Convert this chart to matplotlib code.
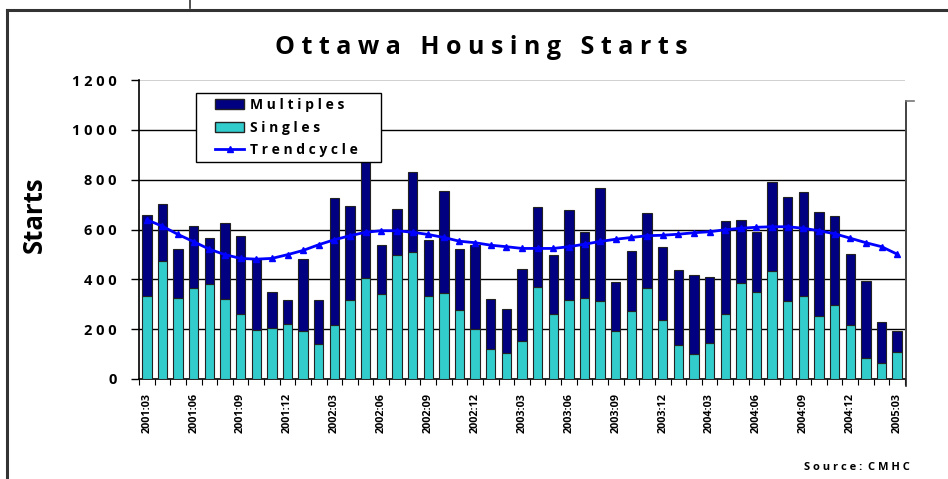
import matplotlib
matplotlib.use("Agg")
import matplotlib.pyplot as plt
from matplotlib.lines import Line2D
from matplotlib.patches import Patch, Rectangle
import numpy as np

# ---- data ----
months = ["2001:03","2001:04","2001:05","2001:06","2001:07","2001:08","2001:09","2001:10","2001:11","2001:12",
          "2002:01","2002:02","2002:03","2002:04","2002:05","2002:06","2002:07","2002:08","2002:09","2002:10",
          "2002:11","2002:12","2003:01","2003:02","2003:03","2003:04","2003:05","2003:06","2003:07","2003:08",
          "2003:09","2003:10","2003:11","2003:12","2004:01","2004:02","2004:03","2004:04","2004:05","2004:06",
          "2004:07","2004:08","2004:09","2004:10","2004:11","2004:12","2005:01","2005:02","2005:03"]
totals = [657, 704, 521, 615, 567, 627, 575, 480, 351, 316,
          483, 316, 728, 695, 900, 539, 683, 829, 559, 756,
          521, 536, 321, 279, 443, 691, 499, 680, 589, 765,
          391, 513, 665, 531, 439, 417, 411, 635, 637, 591,
          789, 729, 752, 669, 653, 500, 392, 229, 192]
singles = [332, 472, 327, 367, 381, 323, 261, 195, 205, 219,
           191, 139, 215, 317, 405, 343, 499, 508, 332, 345,
           277, 201, 119, 103, 153, 368, 259, 317, 325, 313,
           191, 272, 364, 235, 137, 100, 145, 260, 385, 349,
           433, 313, 332, 252, 297, 215, 84, 65, 108]
trend = [639, 613, 580, 551, 521, 499, 484, 481, 484, 499,
         516, 539, 559, 575, 589, 595, 595, 589, 580, 568,
         553, 547, 537, 531, 524, 524, 524, 531, 541, 552,
         561, 568, 575, 577, 581, 587, 591, 599, 605, 609,
         611, 611, 605, 595, 583, 565, 547, 531, 501]
multiples = [t - s for t, s in zip(totals, singles)]
yticks = [0, 200, 400, 600, 800, 1000, 1200]

def spaced(s, sep=" "):
    return sep.join(list(s))

W, H = 948, 479
fig = plt.figure(figsize=(W/100, H/100), dpi=100)
FONT = "Open Sans"
plt.rcParams['font.family'] = [FONT, 'DejaVu Sans']

ax = fig.add_axes([139/W, 1-379/H, (905-139)/W, (379-80)/H])
x = np.arange(len(months))
bw = 0.6
ax.bar(x, singles, width=bw, color="#33CCCC", edgecolor="#222222", linewidth=0.8, zorder=3)
ax.bar(x, multiples, bottom=singles, width=bw, color="#000080", edgecolor="#222222", linewidth=0.8, zorder=3)
ax.plot(x, trend, color="#0000FF", lw=2, marker="^", ms=5, zorder=4)

ax.set_xlim(-0.5, len(months)-0.5)
ax.set_ylim(0, 1200)
ax.set_yticks(yticks)
ax.set_yticklabels([spaced(str(v)) for v in yticks], fontsize=10.5, fontweight="bold")
for v in yticks[1:-1]:
    ax.axhline(v, color="black", lw=1, zorder=1)
ax.axhline(1200, color="#c8c8c8", lw=1.2, zorder=1)

ax.set_xticks(x[::3])
ax.set_xticklabels([m for m in months[::3]], rotation=90, fontsize=7.8, fontweight="bold")
ax.set_xticks(np.arange(-0.5, len(months)), minor=True)
ax.tick_params(axis="x", which="major", length=0, pad=10)
ax.tick_params(axis="x", which="minor", length=4, width=0.8, direction="out")
ax.tick_params(axis="y", length=6, width=1, direction="out", pad=10)
for s in ["top", "right"]:
    ax.spines[s].set_visible(False)
ax.spines["left"].set_linewidth(1.2)
ax.spines["bottom"].set_linewidth(1.2)

ax.set_ylabel("Starts", fontsize=18.5, fontweight="bold", labelpad=0)
ax.yaxis.set_label_coords(-(139-48)/(905-139), 0.55)

fig.text(481/W, 1-47/H, "O t t a w a   H o u s i n g   S t a r t s", ha="center", va="center",
         fontsize=18, fontweight="bold")
fig.text(910/W, 1-467/H, "S o u r c e :  C M H C", ha="right", va="center", fontsize=8, fontweight="bold")

# legend box
box = Rectangle((196/W, 1-162/H), 185/W, 69/H, transform=fig.transFigure, facecolor="white",
                edgecolor="black", lw=1, zorder=9, clip_on=False)
ax.add_patch(box)
handles = [Patch(facecolor="#000080", edgecolor="#222222"),
           Patch(facecolor="#33CCCC", edgecolor="#222222"),
           Line2D([0], [0], color="#0000FF", lw=2, marker="^", ms=5)]
labels = [spaced("Multiples"), spaced("Singles"), spaced("Trendcycle")]
leg = ax.legend(handles, labels, loc="upper left", bbox_to_anchor=(215/W, 1-98/H),
                bbox_transform=fig.transFigure, frameon=False,
                prop={"weight": "bold", "size": 10}, borderpad=0,
                labelspacing=0.62, handlelength=2.1, handleheight=0.75, handletextpad=0.45, borderaxespad=0)
leg.set_zorder(10)

# outer frame and decorations
fig.add_artist(Line2D([7/W, 1], [1-10/H, 1-10/H], color="#333333", lw=2.2))
fig.add_artist(Line2D([7/W, 7/W], [0, 1-10/H], color="#333333", lw=2.2))
fig.add_artist(Line2D([190/W, 190/W], [1, 1-8/H], color="#333333", lw=1.2))
fig.add_artist(Line2D([906/W, 906/W], [1-101/H, 1-386/H], color="#222222", lw=1.2))
fig.add_artist(Line2D([906/W, 914/W], [1-101/H, 1-101/H], color="#777777", lw=1.2))

fig.savefig("out.png", dpi=100)
